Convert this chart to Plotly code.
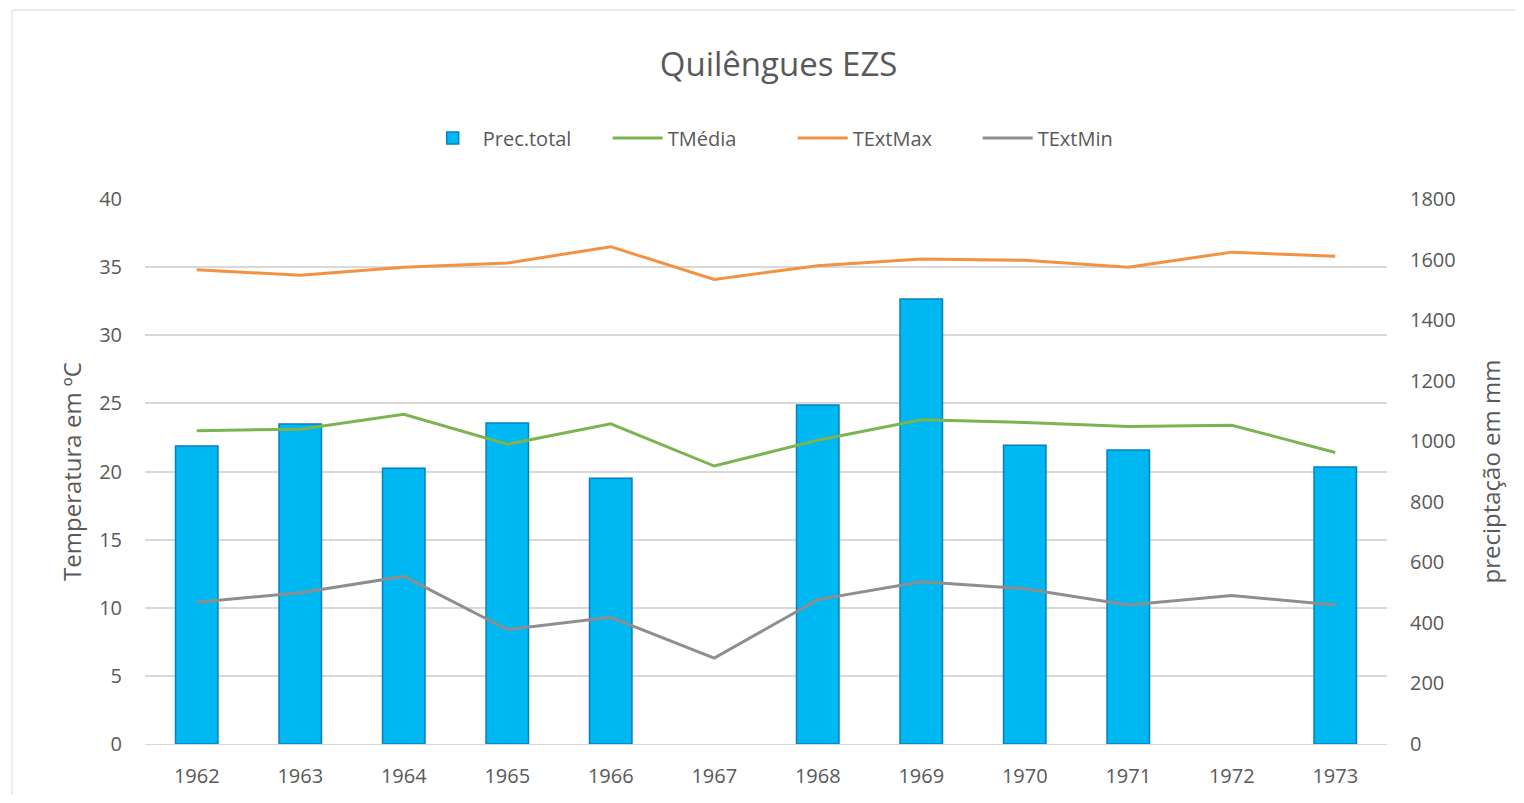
import plotly.graph_objects as go

years = ["1962", "1963", "1964", "1965", "1966", "1967", "1968", "1969", "1970", "1971", "1972", "1973"]
prec_total = [984, 1057, 911, 1060, 878, None, 1120, 1470, 987, 971, None, 915]
t_media = [23.0, 23.1, 24.2, 22.0, 23.5, 20.4, 22.3, 23.8, 23.6, 23.3, 23.4, 21.4]
t_ext_max = [34.8, 34.4, 35.0, 35.3, 36.5, 34.1, 35.1, 35.6, 35.5, 35.0, 36.1, 35.8]
t_ext_min = [10.4, 11.1, 12.3, 8.4, 9.3, 6.3, 10.6, 11.9, 11.4, 10.2, 10.9, 10.2]

font_family = "Open Sans, Noto Sans, sans-serif"
txt = "#595959"

W, H = 1508, 787
L, T, R, B = 137, 191, 129, 51
PW = W - L - R
PH = H - T - B

fig = go.Figure()
fig.add_trace(go.Bar(x=years, y=prec_total, name="Prec.total", yaxis="y",
                     marker=dict(color="#00B8F1", line=dict(color="#0A7DC2", width=1.5))))
fig.add_trace(go.Scatter(x=years, y=t_media, name="TMédia", mode="lines", yaxis="y2",
                         line=dict(color="#7AB552", width=3)))
fig.add_trace(go.Scatter(x=years, y=t_ext_max, name="TExtMax", mode="lines", yaxis="y2",
                         line=dict(color="#F39240", width=3)))
fig.add_trace(go.Scatter(x=years, y=t_ext_min, name="TExtMin", mode="lines", yaxis="y2",
                         line=dict(color="#8E8E8E", width=3)))

fig.update_layout(
    width=W, height=H,
    margin=dict(l=L, r=R, t=T, b=B, autoexpand=False),
    paper_bgcolor="white", plot_bgcolor="white",
    font=dict(family=font_family, color=txt, size=18),
    title=dict(text="Quilêngues EZS", x=0.511, xanchor="center", y=1 - 56 / H, yanchor="middle",
               font=dict(size=33, color=txt)),
    showlegend=True,
    legend=dict(orientation="h", x=0.5215, xanchor="center", yref="container",
                y=1 - 130 / H, yanchor="middle", bgcolor="rgba(0,0,0,0)",
                font=dict(size=20, color=txt), traceorder="normal", itemwidth=50,
                entrywidth=120, entrywidthmode="pixels"),
    bargap=0.59,
    xaxis=dict(type="category", showgrid=False, showline=True, linecolor="#D9D9D9", linewidth=1,
               ticks="", tickfont=dict(size=20, color=txt), ticklabelstandoff=14, automargin=False),
    yaxis=dict(side="right", range=[0, 1800], dtick=200, showgrid=False, zeroline=False,
               tickfont=dict(size=20, color=txt), ticklabelstandoff=22, automargin=False,
               title=dict(text="preciptação em mm", font=dict(size=24, color=txt), standoff=28)),
    yaxis2=dict(side="left", overlaying="y", range=[0, 40], dtick=5, showgrid=True,
                gridcolor="#D9D9D9", gridwidth=1.5, zeroline=False, automargin=False,
                tickfont=dict(size=20, color=txt), ticklabelstandoff=22,
                title=dict(text="Temperatura em ºC", font=dict(size=24, color=txt), standoff=10)),
    shapes=[dict(type="rect", xref="paper", yref="paper",
                 x0=-(L - 4) / PW, x1=(W - L + 20) / PW, y0=-(B + 20) / PH, y1=(PH + T - 2) / PH,
                 line=dict(color="#D9D9D9", width=1), fillcolor="rgba(0,0,0,0)", layer="below")],
)

fig.write_html("out.html")
